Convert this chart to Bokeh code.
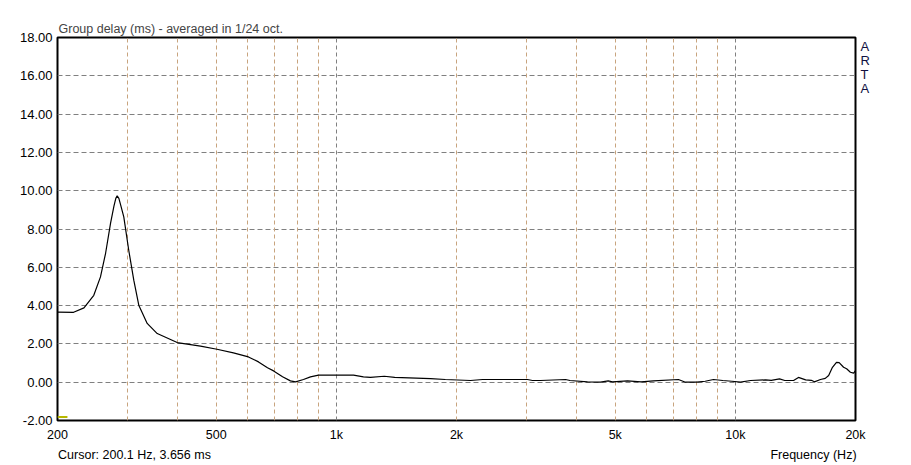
from bokeh.plotting import figure
from bokeh.models import Range1d, FixedTicker, Grid, LinearAxis, LinearScale, CustomJSTickFormatter
from bokeh.embed import file_html
from bokeh.resources import INLINE

# ---- data ----
freq_hz = [200, 219.5, 233, 246.6, 256.3, 263.9, 271.6, 277, 280, 282.2, 285, 288, 293.2, 301.7,
           310.6, 319.7, 335.6, 355.6, 399, 456.5, 502, 552, 602, 638, 672, 696, 733,
           767, 790, 827, 861, 902, 983, 1104, 1169, 1217, 1318, 1400, 1722, 1875, 2168,
           2325, 3013, 3100, 3247, 3753, 3850, 4259, 4590, 4800, 4920, 5365, 5800, 6234,
           7197, 7499, 8000, 8400, 8812, 9300, 9800, 10300, 10915, 11900, 12300, 12900,
           13300, 13990, 14390, 15000, 15500, 15780, 16340, 16800, 17130, 17510, 17920,
           18200, 18670, 19000, 19420, 19790, 20000]
delay_ms = [3.66, 3.65, 3.88, 4.54, 5.5, 6.72, 8.29, 9.2, 9.6, 9.73, 9.6, 9.25, 8.63, 6.89,
            5.33, 4.02, 3.07, 2.54, 2.07, 1.88, 1.72, 1.53, 1.32, 1.06, 0.75, 0.59, 0.28,
            0.07, 0.02, 0.14, 0.28, 0.37, 0.37, 0.37, 0.28, 0.25, 0.31, 0.25, 0.19, 0.14, 0.09,
            0.14, 0.14, 0.09, 0.09, 0.14, 0.09, 0.02, 0.0, 0.07, 0.02, 0.07, 0.02, 0.07,
            0.14, 0.0, 0.0, 0.05, 0.14, 0.09, 0.05, 0.0, 0.09, 0.12, 0.1, 0.17,
            0.09, 0.09, 0.25, 0.12, 0.1, 0.02, 0.14, 0.2, 0.35, 0.78, 1.04,
            1.02, 0.78, 0.7, 0.52, 0.47, 0.6]

x_ticks = [200, 500, 1000, 2000, 5000, 10000, 20000]
x_tick_labels = ["200", "500", "1k", "2k", "5k", "10k", "20k"]
y_ticks = [-2, 0, 2, 4, 6, 8, 10, 12, 14, 16, 18]
minor_grid_hz = [300, 400, 500, 600, 700, 800, 900, 2000, 3000, 4000, 5000, 6000,
                 7000, 8000, 9000]
decade_grid_hz = [1000, 10000]

title_text = "Group delay (ms) - averaged in 1/24 oct."
cursor_text = "Cursor: 200.1 Hz, 3.656 ms"
xlabel_text = "Frequency (Hz)"
brand_letters = ["A", "R", "T", "A"]
brand_rows = [17.55, 16.81, 16.08, 15.35]
footer_px = [77, 756]
cursor_hz = [200, 211.8]
cursor_level = [-1.82, -1.82]

FONT = "Liberation Sans"

p = figure(frame_width=798, frame_height=383, x_axis_type="log", output_backend="svg",
           toolbar_location=None, x_range=Range1d(200, 20000), y_range=Range1d(-2, 18),
           min_border_left=57, min_border_right=40, min_border_top=37, min_border_bottom=40)
p.background_fill_color = "white"
p.border_fill_color = "white"
p.outline_line_color = "black"
p.outline_line_width = 2

# title
p.title.text = title_text
p.title.align = "left"
p.title.offset = 1
p.title.standoff = 3
p.title.text_font = FONT
p.title.text_font_size = "12.5px"
p.title.text_font_style = "normal"

# grids
p.xgrid.ticker = FixedTicker(ticks=decade_grid_hz)
p.xgrid.grid_line_color = "#808080"
p.xgrid.grid_line_dash = "4 3"
p.ygrid.ticker = FixedTicker(ticks=y_ticks)
p.ygrid.grid_line_color = "#808080"
p.ygrid.grid_line_dash = "5 3"
tan_grid = Grid(dimension=0, ticker=FixedTicker(ticks=minor_grid_hz),
                grid_line_color="#c8a47e", grid_line_dash="4 3")
p.add_layout(tan_grid)

# axes
p.xaxis.ticker = FixedTicker(ticks=x_ticks)
p.xaxis.major_label_overrides = {t: l for t, l in zip(x_ticks, x_tick_labels)}
p.yaxis.ticker = FixedTicker(ticks=y_ticks)
p.yaxis.formatter = CustomJSTickFormatter(code="return tick.toFixed(2);")

# right-side "ARTA" letters as an axis of labels
right_ax = LinearAxis(ticker=FixedTicker(ticks=brand_rows),
                      major_label_overrides={r: c for r, c in zip(brand_rows, brand_letters)})
p.add_layout(right_ax, "right")

# footer texts as a second bottom axis in pixel units
p.extra_x_ranges = {"px": Range1d(0, 798)}
p.extra_x_scales = {"px": LinearScale()}
foot_ax = LinearAxis(x_range_name="px", ticker=FixedTicker(ticks=footer_px),
                     major_label_overrides={footer_px[0]: cursor_text, footer_px[1]: xlabel_text})
p.add_layout(foot_ax, "below")

for ax in (p.xaxis[0], p.yaxis[0], right_ax, foot_ax):
    ax.axis_line_color = None
    ax.major_tick_line_color = None
    ax.minor_tick_line_color = None
    ax.major_tick_out = 0
    ax.major_tick_in = 0
    ax.minor_tick_out = 0
    ax.major_label_text_font = FONT
    ax.major_label_text_font_size = "12.5px"
    ax.major_label_text_color = "black"
p.yaxis[0].major_label_text_font_size = "13px"
p.yaxis[0].major_label_standoff = 5
p.xaxis[0].major_label_standoff = 7
foot_ax.major_label_standoff = 3
right_ax.major_label_standoff = 5
right_ax.major_label_text_font_size = "13px"
right_ax.major_label_text_color = "#101040"

# curve and cursor marker
p.line(freq_hz, delay_ms, line_color="black", line_width=1.2)
p.line(cursor_hz, cursor_level, line_color="#b8b800", line_width=2)

open("out.html", "w").write(file_html(p, INLINE))
